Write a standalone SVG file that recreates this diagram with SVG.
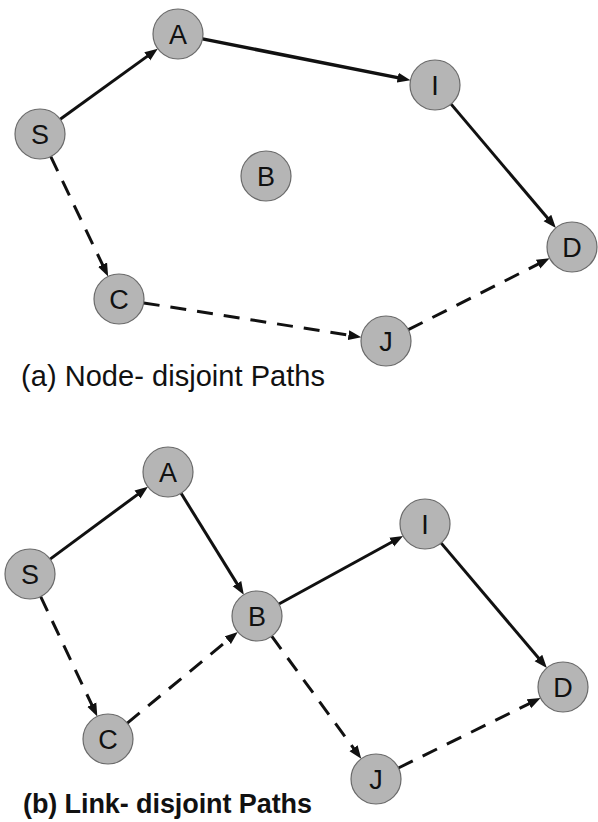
<svg xmlns="http://www.w3.org/2000/svg" width="598" height="822" viewBox="0 0 598 822">
<style>
.node circle{fill:#b5b5b5;stroke:#6a6a6a;stroke-width:1.2}
.node text{font-family:"Liberation Sans",Arial,sans-serif;font-size:27px;fill:#111;text-anchor:middle}
.e{stroke:#111;stroke-width:3;fill:none;marker-end:url(#ah)}
.d{stroke-dasharray:16 11}
.cap{font-family:"Liberation Sans",Arial,sans-serif;fill:#111}
</style>
<defs>
<marker id="ah" markerUnits="userSpaceOnUse" markerWidth="14" markerHeight="11" refX="5" refY="5.5" orient="auto">
<path d="M0,0.5 L13,5.5 L0,10.5 z" fill="#111"/>
</marker>
</defs>
<rect width="598" height="822" fill="#fff"/>
<g id="connectors">
<line class="e" x1="60.2" y1="119.3" x2="151.3" y2="53.4"/>
<line class="e" x1="202.5" y1="38.9" x2="402.6" y2="78.6" style="stroke-width:3.5"/>
<line class="e" x1="451.1" y1="104.1" x2="550.7" y2="221.8"/>
<line class="e d" x1="50.8" y1="156.6" x2="104.7" y2="269.2"/>
<line class="e d" x1="143.7" y1="302.9" x2="353.4" y2="335.9"/>
<line class="e d" x1="408.3" y1="329.7" x2="542.5" y2="261.9"/>
<line class="e" x1="50.1" y1="559.1" x2="141.5" y2="491.6"/>
<line class="e" x1="181.1" y1="493.3" x2="239.6" y2="587.9"/>
<line class="e" x1="278.9" y1="604.0" x2="396.1" y2="539.8"/>
<line class="e" x1="441.2" y1="543.1" x2="541.7" y2="661.8"/>
<line class="e d" x1="40.7" y1="596.6" x2="93.9" y2="709.2"/>
<line class="e d" x1="127.3" y1="723.1" x2="231.6" y2="637.0"/>
<line class="e d" x1="271.7" y1="636.2" x2="356.5" y2="752.3"/>
<line class="e d" x1="398.4" y1="768.0" x2="533.4" y2="701.6"/>
</g>
<g id="a_S" class="node"><circle cx="40" cy="134" r="25"/><text x="40" y="144">S</text></g>
<g id="a_A" class="node"><circle cx="178" cy="34" r="25"/><text x="178" y="44">A</text></g>
<g id="a_I" class="node"><circle cx="435" cy="85" r="25"/><text x="435" y="95">I</text></g>
<g id="a_B" class="node"><circle cx="266" cy="176" r="25"/><text x="266" y="186">B</text></g>
<g id="a_D" class="node"><circle cx="572" cy="247" r="25"/><text x="572" y="257">D</text></g>
<g id="a_C" class="node"><circle cx="119" cy="299" r="25"/><text x="119" y="309">C</text></g>
<g id="a_J" class="node"><circle cx="386" cy="341" r="25"/><text x="386" y="351">J</text></g>
<text id="cap_a" class="cap" x="21" y="386" font-size="29" textLength="304" lengthAdjust="spacing">(a) Node- disjoint Paths</text>
<g id="b_S" class="node"><circle cx="30" cy="574" r="25"/><text x="30" y="584">S</text></g>
<g id="b_A" class="node"><circle cx="168" cy="472" r="25"/><text x="168" y="482">A</text></g>
<g id="b_B" class="node"><circle cx="257" cy="616" r="25"/><text x="257" y="626">B</text></g>
<g id="b_I" class="node"><circle cx="425" cy="524" r="25"/><text x="425" y="534">I</text></g>
<g id="b_D" class="node"><circle cx="563" cy="687" r="25"/><text x="563" y="697">D</text></g>
<g id="b_C" class="node"><circle cx="108" cy="739" r="25"/><text x="108" y="749">C</text></g>
<g id="b_J" class="node"><circle cx="376" cy="779" r="25"/><text x="376" y="789">J</text></g>
<text id="cap_b" class="cap" x="23" y="813" font-size="27" font-weight="bold" textLength="289" lengthAdjust="spacing">(b) Link- disjoint Paths</text>
</svg>
